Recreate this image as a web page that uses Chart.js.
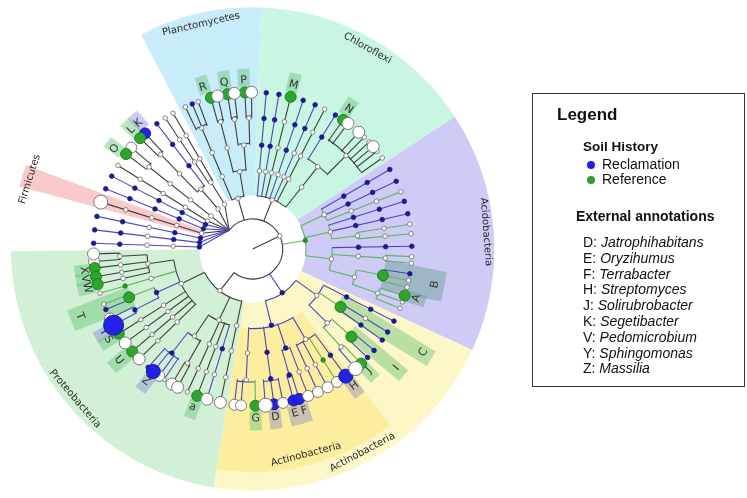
<!DOCTYPE html>
<html>
<head>
<meta charset="utf-8">
<script src="https://cdn.jsdelivr.net/npm/chart.js@4.4.1/dist/chart.umd.min.js"></script>
<style>
html, body { margin: 0; padding: 0; background: #fff; }
#wrap { position: relative; width: 747px; height: 498px; overflow: hidden; }
#tree { position: absolute; left: 0; top: 0; }
.lg { position: absolute; white-space: nowrap; font-family: "Liberation Sans", Arial, sans-serif; color: #111; }
</style>
</head>
<body>
<div id="wrap">
  <canvas id="tree" width="747" height="498"></canvas>
</div>
<script>
// ---- clades (highlighted sectors) ----
const cladeNames = ['Planctomycetes', 'Chloroflexi', 'Acidobacteria', 'Actinobacteria', 'Actinobacteria', 'Proteobacteria', 'Firmicutes'];
const cladeStart = [-117.5, -88, -33.2, 24.7, 52, 99.3, -165];
const cladeEnd   = [-88, -33.2, 24.7, 99.3, 99.3, 179.5, -159.7];
const cladeRank  = [2, 2, 2, 2, 3, 2, 2];
const cladeReach = [249, 249, 249, 249, 230, 249, 249];

// radius of each taxonomic rank: root, kingdom, phylum, class, order, family, genus
const rankRadius = [0, 31, 55, 82, 109, 137, 164];

// ---- external annotations ----
const annLetters = ['R', 'Q', 'P', 'M', 'N', 'K', 'L', 'O', 'X', 'V', 'W', 'T', 'Y', 'S', 'U', 'Z', 'a', 'G', 'D', 'E', 'F', 'H', 'J', 'I', 'C', 'B', 'A'];
const annAngles  = [-106.8, -99.5, -93, -76.2, -55.9, -131.8, -135.2, -143.6, 172.7, 169.8, 166.6, 158.4, 150.5, 147.5, 139.9, 128.5, 110.5, 89, 82.4, 75.7, 72.5, 53.8, 46.6, 40, 31.6, 11.2, 16.9];
const annFrom    = [167, 167, 167, 167, 167, 167, 167, 167, 167, 167, 167, 134, 167, 167, 163, 167, 167, 167, 167, 167, 167, 167, 166, 132, 104, 137, 164];
const annTo      = [186, 186, 186, 186, 186, 186, 186, 186, 185, 185, 185, 201, 186, 186, 190, 186, 186, 187, 187, 187, 187, 187, 184, 203, 216, 201, 186];
const annKind    = ['g', 'g', 'g', 'g', 'g', 'v', 'g', 'g', 'g', 'g', 'g', 'g', 'v', 'g', 'g', 'v', 'g', 'g', 'n', 'n', 'n', 'n', 'g', 'g', 'g', 's', 's'];

// ---- legend ----
const soilHistory = ['Reclamation', 'Reference'];
const annotationKeys = ['D', 'E', 'F', 'H', 'J', 'K', 'V', 'Y', 'Z'];
const annotationGenera = ['Jatrophihabitans', 'Oryzihumus', 'Terrabacter', 'Streptomyces', 'Solirubrobacter', 'Segetibacter', 'Pedomicrobium', 'Sphingomonas', 'Massilia'];

// ---- tree: leaf angle, markers per rank level, branch colour ----
function L(a, m, c) { return { a: a, m: m.split(' '), c: c }; }
function N(m, c, ...ch) { return { m: m.split(' '), c: c, ch: ch }; }

const otherPhyla = { fan: true, a: -141, m: [], c: 'K', ch: [
  N('w w', 'K', L(-120, 'w w w', 'K'), L(-123.3, 'w w w', 'K')),
  N('w w', 'K', L(-127, 'b b b', 'B'), N('w w', 'K', L(-132.5, 'B', 'K'), L(-135, 'G', 'K'))),
  N('w w w w', 'K', L(-139.7, 'W', 'K'), L(-142.7, 'G', 'K')),
  L(-147.8, 'w w w w w', 'K'),
  L(-152.3, 'b b b b b', 'B'),
  L(-157.4, 'b b b b b', 'B'),
  L(-162.6, 'w w w w W7', 'K'),
  L(-168, 'b b w b b', 'B'),
  L(-173, 'b b w b b', 'B'),
  L(-177.9, 'b w w b b', 'B')
]};

const planctomycetes = N('w', 'K',
  N('w w w', 'K', L(-115, 'w', 'K'), L(-112.3, 'b', 'K'), L(-110, 'w', 'K')),
  N('w', 'K',
    N('w w', 'K', L(-105.2, 'G', 'K'), L(-102.7, 'W6', 'K')),
    N('w', 'K',
      N('w', 'K', L(-99.1, 'G', 'K'), L(-96.6, 'W6', 'K')),
      N('w', 'K', L(-92.8, 'G', 'K'), L(-90.4, 'W6', 'K')))));

const chloroflexi = N('w', 'K',
  L(-85.1, 'w b b b', 'B'),
  L(-80.5, 'w b b b', 'B'),
  L(-76.2, 'w w w G', 'K'),
  L(-71.5, 'w b b b', 'B'),
  L(-66.9, 'w w b b', 'B'),
  L(-63.1, 'w w w w', 'K'),
  N('w w', 'K',
    L(-58.7, 'b b', 'B'),
    N('w', 'K', L(-55.4, 'G', 'K'), L(-53.2, 'W6', 'K'), L(-48.2, 'W6', 'K'), L(-45.5, 'w', 'K'),
      L(-43, 'w', 'K'), L(-40.8, 'W6', 'K'), L(-38.6, 'w', 'K'), L(-35.5, 'w', 'K'))));

const acidobacteria = N('g', 'G',
  N('w', 'G', L(-30.5, 'b b b', 'B'), L(-25.6, 'b b b', 'B'), L(-21.4, 'w w w', 'G')),
  N('w', 'G', L(-17.7, 'b b b', 'B'), L(-13.0, 'b b b', 'B'), N('w', 'G', L(-9.1, 'w w', 'G'), L(-5.6, 'w w', 'G'))),
  N('w', 'G',
    L(-1.0, 'b b b', 'B'),
    N('w w', 'G', L(2.8, 'w', 'G'), L(5.2, 'w', 'G')),
    N('w', 'G',
      N('G', 'G', L(9.1, 'b', 'B'), L(11.6, 'w', 'G'), L(14.1, 'w', 'G')),
      N('w', 'G', L(17.3, 'G', 'G'), L(19.7, 'w', 'G'), L(22.2, 'w', 'G')))));

const actinobacteria = N('b', 'B',
  N('b', 'B',
    N('w w', 'B', L(96.6, 'W', 'B'), L(94.2, 'W', 'B'), L(89, 'G', 'G')),
    N('b b', 'B', L(85.4, 'W7', 'B'), L(82.3, 'B', 'B'), L(79, 'W', 'B')),
    N('b', 'B', N('b', 'B', L(75.1, 'B', 'B'), L(73, 'B', 'B')), L(69.6, 'w W', 'B')),
    N('w', 'B', L(65.8, 'w W', 'B'), L(61.9, 'w W', 'B'), L(58, 'g W', 'G'), L(54.2, 'b B7', 'B'))),
  N('w', 'B',
    L(27.4, 'b b b', 'B'),
    N('G', 'G', L(32, 'w b', 'B'), L(35.5, 'b b', 'B')),
    N('w', 'B',
      N('G', 'G', L(40.3, 'b', 'B'), L(43.8, 'b', 'B')),
      N('w', 'G', L(47, 'G', 'G'), L(49.7, 'W7', 'B')))));

const proteobacteria = N('w', 'K',
  N('w', 'K',
    N('w', 'K',
      N('w', 'K', L(178.2, 'W6', 'K'), L(175.4, 'W', 'K')),
      L(173, 'w G', 'K'), L(169.8, 'w G', 'K'), L(167, 'w G', 'K')),
    L(163.6, 'w g w', 'G'),
    N('b', 'B',
      N('G', 'G', L(159.4, 'w', 'G'), L(157.3, 'b', 'B')),
      N('b', 'B', L(153.7, 'W', 'B'), L(150.9, 'B10', 'B'))),
    L(147.3, 'w w G', 'K'),
    L(143.2, 'w w W6', 'K'),
    L(139.2, 'w w G', 'K'),
    L(135.5, 'w w W6', 'K')),
  N('w', 'K',
    N('w', 'K',
      N('b', 'B', L(131, 'b', 'B'), L(128.6, 'B7', 'B'), L(126, 'W', 'B'), L(123.8, 'w', 'B')),
      N('w', 'K', L(120.5, 'W6', 'K'), L(118.1, 'W6', 'K'))),
    L(114.2, 'w w w', 'K'),
    L(110.4, 'w w G', 'K'),
    L(106.7, 'b w W6', 'B')),
  L(101.7, 'w w w W6', 'K'));

const bacteria = N('w', 'K', otherPhyla, planctomycetes, chloroflexi, acidobacteria, actinobacteria, proteobacteria);
bacteria.a = -26;

// ---- styles ----
const cladeColors = ['#c8ecf9', '#c9f5e3', '#cecbf6', '#fdf6c6', '#fcee9e', '#d2f0d5', '#f9c9cb'];
const lineColors = { K: '#3d3d3d', B: '#4b47c2', G: '#5db55f' };
const markStyle = {
  w: { r: 2.3, fill: '#ffffff', stroke: '#6b6b6b' },
  b: { r: 2.3, fill: '#1b1b8f', stroke: '#1b1b8f' },
  g: { r: 2.3, fill: '#2e8b2e', stroke: '#2e8b2e' },
  W: { r: 5.5, fill: '#ffffff', stroke: '#7a7a7a' },
  B: { r: 5.5, fill: '#2222e6', stroke: '#1616a8' },
  G: { r: 5.5, fill: '#2ea62e', stroke: '#1f7f1f' }
};
const annColors = { g: 'rgba(105,195,120,0.45)', v: 'rgba(120,120,215,0.38)', n: '#c9c0ad', s: 'rgba(120,165,160,0.55)' };

// ---- tree layout ----
function layout(node, depth) {
  if (node.fan) { node.d0 = depth; node.d1 = depth; }
  else { node.d0 = depth + 1; node.d1 = depth + node.m.length; }
  if (node.ch) {
    node.ch.forEach(c => layout(c, node.d1));
    if (node.a === undefined) {
      const as = node.ch.map(c => c.a);
      node.a = (Math.min(...as) + Math.max(...as)) / 2;
    }
  }
}
layout(bacteria, 0);

const segs = [];
const marks = [];
function walk(node, parent) {
  if (!node.fan) {
    const rEnd = rankRadius[node.d1];
    if (!parent) {
      segs.push({ r0: 0, a0: node.a, r1: rEnd, a1: node.a, c: node.c });
    } else if (parent.fan) {
      segs.push({ r0: rankRadius[parent.d1], a0: parent.a, r1: rankRadius[node.d0], a1: node.a, c: node.c });
      segs.push({ r0: rankRadius[node.d0], a0: node.a, r1: rEnd, a1: node.a, c: node.c });
    } else {
      segs.push({ r0: rankRadius[parent.d1], a0: node.a, r1: rEnd, a1: node.a, c: node.c });
    }
    node.m.forEach((tok, i) => {
      if (tok === '.') return;
      const k = tok[0];
      const size = tok.length > 1 ? parseFloat(tok.slice(1)) : markStyle[k].r;
      marks.push({ r: rankRadius[node.d0 + i], a: node.a, k: k, size: size });
    });
  }
  if (node.ch) {
    if (!node.fan) {
      const as = node.ch.map(c => c.a);
      segs.push({ arc: true, r: rankRadius[node.d1], a0: Math.min(...as), a1: Math.max(...as), c: node.c });
    }
    node.ch.forEach(c => walk(c, node));
  }
}
walk(bacteria, null);
marks.sort((p, q) => p.size - q.size);

const rad = d => d * Math.PI / 180;
function textTurn(a) {
  let t = a;
  while (t > 180) t -= 360;
  while (t <= -180) t += 360;
  return t < 0 ? t + 90 : t - 90;
}

const treePlugin = {
  id: 'treePlugin',
  beforeDatasetsDraw(chart) {
    const ctx = chart.ctx;
    const xs = chart.scales.x, ys = chart.scales.y;
    const cx = xs.getPixelForValue(0), cy = ys.getPixelForValue(0);
    const k = xs.getPixelForValue(1) - cx;
    const pt = (r, a) => [xs.getPixelForValue(r * Math.cos(rad(a))), ys.getPixelForValue(-r * Math.sin(rad(a)))];

    ctx.save();
    // sectors
    cladeNames.forEach((name, i) => {
      const r0 = rankRadius[cladeRank[i]] * k, r1 = cladeReach[i] * k;
      ctx.beginPath();
      ctx.arc(cx, cy, r1, rad(cladeStart[i]), rad(cladeEnd[i]));
      ctx.arc(cx, cy, r0, rad(cladeEnd[i]), rad(cladeStart[i]), true);
      ctx.closePath();
      ctx.fillStyle = cladeColors[i];
      ctx.fill();
    });
    // sector names
    ctx.font = '10px "DejaVu Sans", Verdana, sans-serif';
    ctx.fillStyle = '#2a2a2a';
    ctx.textAlign = 'center';
    ctx.textBaseline = 'middle';
    cladeNames.forEach((name, i) => {
      const mid = (cladeStart[i] + cladeEnd[i]) / 2;
      const p = pt(cladeReach[i] - 8, mid);
      ctx.save();
      ctx.translate(p[0], p[1]);
      ctx.rotate(rad(textTurn(mid)));
      ctx.fillText(name, 0, 0);
      ctx.restore();
    });
    // annotation boxes
    annLetters.forEach((t, i) => {
      const w = t === 'B' ? 30 : t === 'T' ? 22 : t === 'C' ? 17 : (t === 'I' || t === 'U') ? 14 : 12;
      ctx.save();
      ctx.translate(cx, cy);
      ctx.rotate(rad(annAngles[i]));
      ctx.fillStyle = annColors[annKind[i]];
      ctx.fillRect(annFrom[i] * k, -w / 2, (annTo[i] - annFrom[i]) * k, w);
      ctx.restore();
    });
    // branches
    ctx.lineWidth = 1.1;
    segs.forEach(s => {
      ctx.strokeStyle = lineColors[s.c];
      ctx.beginPath();
      if (s.arc) {
        ctx.arc(cx, cy, s.r * k, rad(s.a0), rad(s.a1));
      } else {
        const p0 = pt(s.r0, s.a0), p1 = pt(s.r1, s.a1);
        ctx.moveTo(p0[0], p0[1]);
        ctx.lineTo(p1[0], p1[1]);
      }
      ctx.stroke();
    });
    // annotation letters
    ctx.font = '11px "DejaVu Sans", Verdana, sans-serif';
    ctx.fillStyle = '#333';
    annLetters.forEach((t, i) => {
      const p = pt(annTo[i] - 9.5, annAngles[i]);
      ctx.save();
      ctx.translate(p[0], p[1]);
      ctx.rotate(rad(textTurn(annAngles[i])));
      ctx.fillText(t, 0, 0);
      ctx.restore();
    });
    ctx.restore();
  }
};

new Chart(document.getElementById('tree').getContext('2d'), {
  type: 'scatter',
  data: {
    datasets: [{
      data: marks.map(m => ({ x: m.r * Math.cos(rad(m.a)), y: -m.r * Math.sin(rad(m.a)) })),
      pointRadius: marks.map(m => m.size),
      pointBackgroundColor: marks.map(m => markStyle[m.k].fill),
      pointBorderColor: marks.map(m => markStyle[m.k].stroke),
      pointBorderWidth: marks.map(m => m.size > 3 ? 1 : 0.8),
      clip: false
    }]
  },
  options: {
    responsive: false,
    animation: false,
    devicePixelRatio: 1,
    events: [],
    layout: { padding: 0 },
    plugins: { legend: { display: false }, tooltip: { enabled: false } },
    scales: {
      x: { type: 'linear', min: -249, max: 498, display: false },
      y: { type: 'linear', min: -249, max: 249, display: false }
    }
  },
  plugins: [treePlugin]
});

// ---- legend box ----
const wrap = document.getElementById('wrap');
function put(html, left, mid, size, bold) {
  const d = document.createElement('div');
  d.className = 'lg';
  d.innerHTML = html;
  d.style.left = left + 'px';
  d.style.top = (mid - size / 2 - 1) + 'px';
  d.style.fontSize = size + 'px';
  d.style.lineHeight = size + 'px';
  if (bold) d.style.fontWeight = 'bold';
  wrap.appendChild(d);
  return d;
}
const box = document.createElement('div');
box.style.cssText = 'position:absolute;left:532px;top:93px;width:213px;height:294px;box-sizing:border-box;border:1.5px solid #333;';
wrap.appendChild(box);
put('Legend', 557, 115, 17, true);
put('Soil History', 583, 148, 13.5, true);
const dotColors = ['#1f1fe6', '#2ca02c'];
soilHistory.forEach((s, i) => {
  const y = 165 + i * 15;
  const dot = document.createElement('div');
  dot.style.cssText = 'position:absolute;width:8px;height:8px;border-radius:50%;left:587px;top:' + (y - 4) + 'px;background:' + dotColors[i] + ';';
  wrap.appendChild(dot);
  put(s, 602, y, 14, false);
});
put('External annotations', 576, 217, 14, true);
annotationKeys.forEach((key, i) => {
  put(key + ': <i>' + annotationGenera[i] + '</i>', 583, 243 + i * 15.8, 14, false);
});
</script>
</body>
</html>
